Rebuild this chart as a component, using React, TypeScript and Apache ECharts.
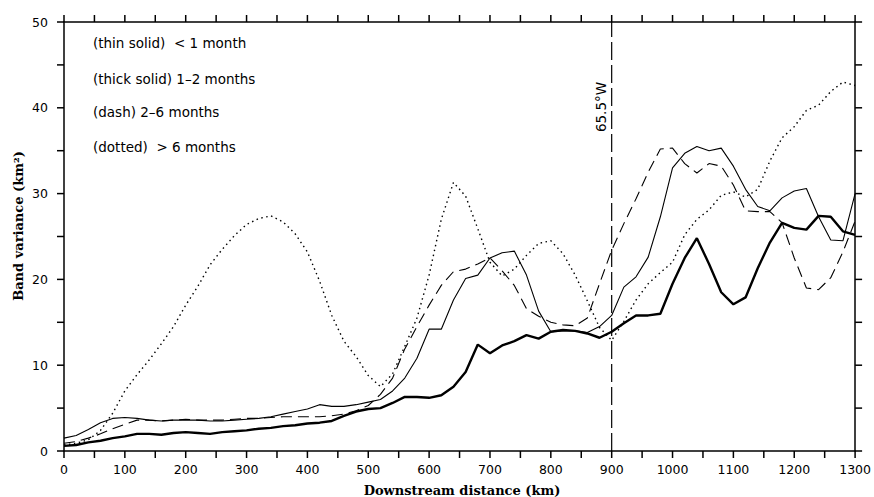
import React, { useEffect, useRef } from "react";
import * as echarts from "echarts";

// Downstream distance (km) of each sample point
const distanceKm = [
  0, 20, 40, 60, 80, 100, 120, 140, 160, 180,
  200, 220, 240, 260, 280, 300, 320, 340, 360, 380,
  400, 420, 440, 460, 480, 500, 520, 540, 560, 580,
  600, 620, 640, 660, 680, 700, 720, 740, 760, 780,
  800, 820, 840, 860, 880, 900, 920, 940, 960, 980,
  1000, 1020, 1040, 1060, 1080, 1100, 1120, 1140, 1160, 1180,
  1200, 1220, 1240, 1260, 1280, 1300,
];

// Band variance (km²) per period band
const lessThanOneMonth = [
  1.5, 1.8, 2.5, 3.3, 3.8, 3.9, 3.8, 3.6, 3.5, 3.6,
  3.6, 3.6, 3.5, 3.5, 3.6, 3.7, 3.8, 4.0, 4.3, 4.6,
  4.9, 5.4, 5.2, 5.2, 5.4, 5.7, 6.0, 7.0, 8.5, 10.8,
  14.2, 14.2, 17.6, 20.1, 20.5, 22.5, 23.1, 23.3, 20.5, 16.3,
  13.9, 14.0, 14.0, 13.8, 14.5, 15.8, 19.1, 20.3, 22.6, 27.3,
  33.0, 34.7, 35.5, 35.0, 35.3, 33.2, 30.5, 28.5, 28.0, 29.5,
  30.3, 30.6, 27.3, 24.6, 24.5, 30.0,
];
const oneToTwoMonths = [
  0.6, 0.7, 1.0, 1.2, 1.5, 1.7, 2.0, 2.0, 1.9, 2.1,
  2.2, 2.1, 2.0, 2.2, 2.3, 2.4, 2.6, 2.7, 2.9, 3.0,
  3.2, 3.3, 3.5, 4.1, 4.6, 4.9, 5.0, 5.6, 6.3, 6.3,
  6.2, 6.5, 7.5, 9.2, 12.4, 11.4, 12.3, 12.8, 13.5, 13.1,
  13.9, 14.1, 14.0, 13.7, 13.2, 13.9, 14.9, 15.8, 15.8, 16.0,
  19.5, 22.5, 24.8, 21.8, 18.5, 17.1, 17.9, 21.3, 24.3, 26.6,
  26.0, 25.8, 27.4, 27.3, 25.6, 25.2,
];
const twoToSixMonths = [
  0.9, 1.1, 1.5, 2.0, 2.6, 3.1, 3.6, 3.6, 3.5, 3.6,
  3.7, 3.6, 3.6, 3.6, 3.7, 3.8, 3.8, 3.9, 4.0, 4.0,
  4.0, 4.0, 4.1, 4.3, 4.7, 5.3, 6.6, 8.5, 11.9, 14.5,
  17.0, 19.3, 20.9, 21.2, 21.8, 22.5, 21.0, 19.3, 16.6, 15.7,
  15.0, 14.7, 14.6, 15.5, 19.5, 23.4, 26.5, 29.4, 32.5, 35.2,
  35.3, 33.5, 32.4, 33.5, 33.2, 31.0, 28.0, 27.9, 27.9, 26.6,
  22.5, 19.0, 18.8, 20.2, 23.2, 26.8,
];
const overSixMonths = [
  0.7, 0.9, 1.3, 2.4, 4.4, 7.0, 8.9, 10.6, 12.5, 14.5,
  17.0, 19.2, 21.7, 23.5, 25.1, 26.4, 27.1, 27.4, 26.7, 25.3,
  23.2, 19.8, 15.8, 12.8, 11.0, 8.8, 7.5, 9.0, 12.2, 15.5,
  20.5, 27.0, 31.3, 29.7, 25.9, 22.0, 20.4, 21.2, 22.8, 24.2,
  24.5, 23.0, 20.5, 17.5, 14.4, 12.9, 15.1, 17.6, 19.5, 20.8,
  22.0, 25.2, 27.0, 28.1, 29.8, 30.2, 29.6, 30.5, 33.8, 36.5,
  37.8, 39.7, 40.3, 41.9, 43.0, 42.6,
];

// Frame tick positions (every half label step)
const xTickKm = [
  0, 50, 100, 150, 200, 250, 300, 350, 400, 450, 500, 550, 600, 650,
  700, 750, 800, 850, 900, 950, 1000, 1050, 1100, 1150, 1200, 1250, 1300,
];
const yTickVals = [0, 5, 10, 15, 20, 25, 30, 35, 40, 45, 50];

// Reference meridian crossing
const meridianKm = 900;
const meridianLabel = "65.5°W";

const legendLines = [
  "(thin solid)  < 1 month",
  "(thick solid) 1\u20132 months",
  "(dash) 2\u20136 months",
  "(dotted)  > 6 months",
];

const xTitle = "Downstream distance (km)";
const yTitle = "Band variance (km\u00B2)";

const pairs = (ys: number[]) => distanceKm.map((x, i) => [x, ys[i]]);

const INK = "#000";
const SANS = "DejaVu Sans";
const SERIF = "DejaVu Serif";
const TICK_LEN = 7;
const TICK_W = 1.5;

const frameAxis = () => ({
  axisLine: { show: true, onZero: false, lineStyle: { color: INK, width: 1.5 } },
  axisTick: { show: false },
  minorTick: { show: false },
  splitLine: { show: false },
});

const tickSeg = (x1: number, y1: number, x2: number, y2: number) => ({
  type: "line",
  shape: { x1, y1, x2, y2 },
  style: { stroke: INK, lineWidth: TICK_W },
});

export default function App() {
  const ref = useRef<HTMLDivElement>(null);

  useEffect(() => {
    const chart = echarts.init(ref.current!, undefined, { renderer: "svg" });

    const lineBase = {
      type: "line" as const,
      xAxisIndex: 0,
      yAxisIndex: 0,
      showSymbol: false,
      symbol: "none",
      silent: true,
    };

    chart.setOption({
      animation: false,
      backgroundColor: "#fff",
      grid: { left: 64, right: 17, top: 22, bottom: 46 },
      xAxis: [
        {
          type: "value",
          position: "bottom",
          min: 0,
          max: 1300,
          interval: 100,
          ...frameAxis(),
          axisLabel: {
            color: INK,
            fontFamily: SANS,
            fontSize: 12.5,
            margin: 12,
            formatter: (v: number) => String(v),
          },
        },
        {
          type: "value",
          position: "top",
          min: 0,
          max: 1300,
          interval: 100,
          ...frameAxis(),
          axisLabel: { show: false },
        },
      ],
      yAxis: [
        {
          type: "value",
          position: "left",
          min: 0,
          max: 50,
          interval: 10,
          ...frameAxis(),
          axisLabel: {
            color: INK,
            fontFamily: SANS,
            fontSize: 12.5,
            margin: 16,
            formatter: (v: number) => String(v),
          },
        },
        {
          type: "value",
          position: "right",
          min: 0,
          max: 50,
          interval: 10,
          ...frameAxis(),
          axisLabel: { show: false },
        },
      ],
      series: [
        {
          ...lineBase,
          name: "thin solid",
          data: pairs(lessThanOneMonth),
          lineStyle: { color: INK, width: 1.1 },
        },
        {
          ...lineBase,
          name: "thick solid",
          data: pairs(oneToTwoMonths),
          lineStyle: { color: INK, width: 2.4 },
        },
        {
          ...lineBase,
          name: "dash",
          data: pairs(twoToSixMonths),
          lineStyle: { color: INK, width: 1.1, type: [11, 6] },
        },
        {
          ...lineBase,
          name: "dotted",
          data: pairs(overSixMonths),
          lineStyle: { color: INK, width: 1.4, type: [1.5, 3.5] },
        },
        {
          ...lineBase,
          name: "meridian",
          data: [
            [meridianKm, 0],
            [meridianKm, 50],
          ],
          lineStyle: { color: INK, width: 1.2, type: [18, 5] },
        },
        // Outward ticks on the top and bottom frame edges
        {
          type: "custom",
          name: "x ticks",
          xAxisIndex: 0,
          yAxisIndex: 0,
          silent: true,
          clip: false,
          z: 5,
          data: xTickKm.map((v) => [v, 0]),
          encode: { x: 0, y: 1 },
          renderItem: (params: any, api: any) => {
            const cs = params.coordSys;
            const x = api.coord([api.value(0), 0])[0];
            const top = cs.y;
            const bottom = cs.y + cs.height;
            return {
              type: "group",
              children: [
                tickSeg(x, bottom, x, bottom + TICK_LEN),
                tickSeg(x, top, x, top - TICK_LEN),
              ],
            };
          },
        },
        // Outward ticks on the left and right frame edges
        {
          type: "custom",
          name: "y ticks",
          xAxisIndex: 0,
          yAxisIndex: 0,
          silent: true,
          clip: false,
          z: 5,
          data: yTickVals.map((v) => [0, v]),
          encode: { x: 0, y: 1 },
          renderItem: (params: any, api: any) => {
            const cs = params.coordSys;
            const y = api.coord([0, api.value(1)])[1];
            const left = cs.x;
            const right = cs.x + cs.width;
            return {
              type: "group",
              children: [
                tickSeg(left, y, left - TICK_LEN, y),
                tickSeg(right, y, right + TICK_LEN, y),
              ],
            };
          },
        },
      ],
      graphic: [
        ...legendLines.map((t, i) => ({
          type: "text",
          x: 93,
          y: [43, 79, 112, 147][i],
          style: {
            text: t,
            fill: INK,
            fontFamily: SANS,
            fontSize: 13.5,
            verticalAlign: "middle",
          },
        })),
        {
          type: "text",
          x: 601,
          y: 107,
          rotation: Math.PI / 2,
          style: {
            text: meridianLabel,
            fill: INK,
            fontFamily: SANS,
            fontSize: 13.5,
            align: "center",
            verticalAlign: "middle",
          },
        },
        {
          type: "text",
          x: 462,
          y: 490,
          style: {
            text: xTitle,
            fill: INK,
            fontFamily: SERIF,
            fontWeight: "bold",
            fontSize: 13,
            align: "center",
            verticalAlign: "middle",
          },
        },
        {
          type: "text",
          x: 18,
          y: 226,
          rotation: Math.PI / 2,
          style: {
            text: yTitle,
            fill: INK,
            fontFamily: SERIF,
            fontWeight: "bold",
            fontSize: 13,
            align: "center",
            verticalAlign: "middle",
          },
        },
      ],
    });

    return () => chart.dispose();
  }, []);

  return (
    <div
      ref={ref}
      style={{ position: "fixed", left: 0, top: 0, width: 874, height: 497 }}
    />
  );
}
